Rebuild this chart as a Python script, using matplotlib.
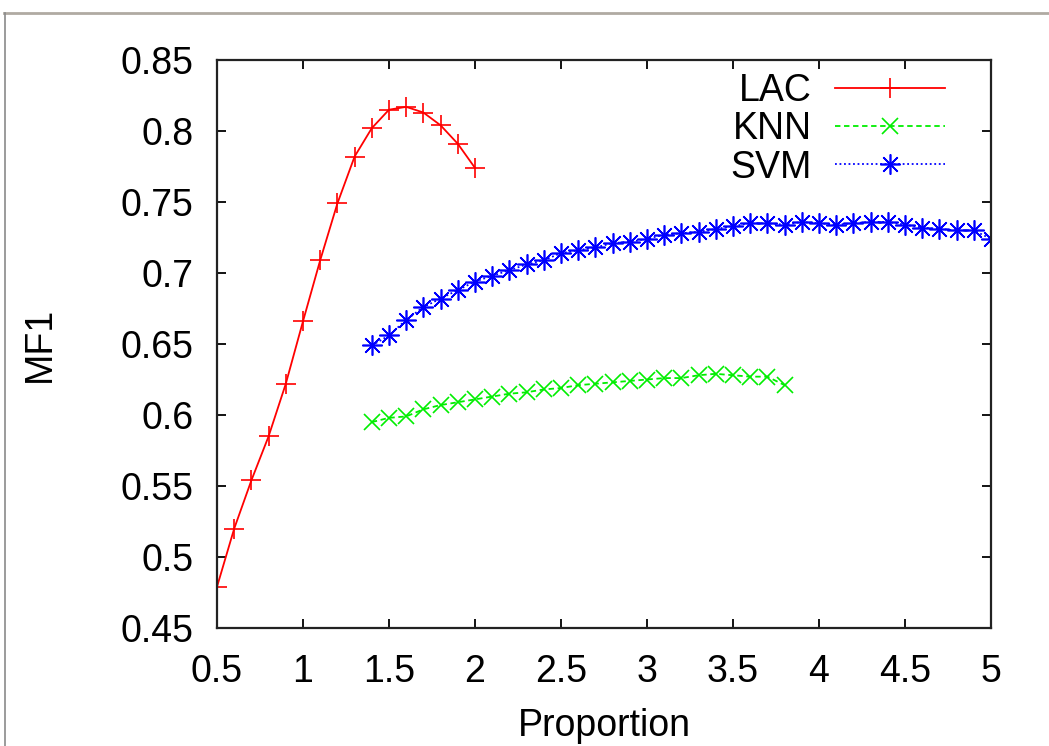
import matplotlib
matplotlib.use("Agg")
import matplotlib.pyplot as plt
from matplotlib.lines import Line2D
import numpy as np

# ---- data ----
lac_x = [0.5, 0.6, 0.7, 0.8, 0.9, 1.0, 1.1, 1.2, 1.3, 1.4, 1.5, 1.6, 1.7, 1.8, 1.9, 2.0]
lac_y = [0.479, 0.520, 0.554, 0.585, 0.622, 0.666, 0.709, 0.749, 0.782, 0.802,
         0.815, 0.817, 0.813, 0.804, 0.791, 0.774]

knn_x = [1.4, 1.5, 1.6, 1.7, 1.8, 1.9, 2.0, 2.1, 2.2, 2.3, 2.4, 2.5, 2.6, 2.7,
         2.8, 2.9, 3.0, 3.1, 3.2, 3.3, 3.4, 3.5, 3.6, 3.7, 3.8]
knn_y = [0.595, 0.598, 0.599, 0.604, 0.607, 0.609, 0.611, 0.613, 0.615, 0.616,
         0.618, 0.619, 0.621, 0.622, 0.623, 0.624, 0.625, 0.626, 0.626, 0.628,
         0.629, 0.628, 0.627, 0.627, 0.621]

svm_x = [1.4, 1.5, 1.6, 1.7, 1.8, 1.9, 2.0, 2.1, 2.2, 2.3, 2.4, 2.5, 2.6, 2.7,
         2.8, 2.9, 3.0, 3.1, 3.2, 3.3, 3.4, 3.5, 3.6, 3.7, 3.8, 3.9, 4.0, 4.1,
         4.2, 4.3, 4.4, 4.5, 4.6, 4.7, 4.8, 4.9, 5.0]
svm_y = [0.649, 0.656, 0.667, 0.676, 0.682, 0.688, 0.694, 0.698, 0.702, 0.706,
         0.709, 0.714, 0.716, 0.718, 0.721, 0.722, 0.724, 0.727, 0.728, 0.729,
         0.731, 0.733, 0.735, 0.735, 0.734, 0.736, 0.735, 0.734, 0.735, 0.736,
         0.736, 0.734, 0.732, 0.731, 0.730, 0.730, 0.724]

x_ticks = [0.5, 1, 1.5, 2, 2.5, 3, 3.5, 4, 4.5, 5]
x_tick_labels = ["0.5", "1", "1.5", "2", "2.5", "3", "3.5", "4", "4.5", "5"]
y_ticks = [0.45, 0.5, 0.55, 0.6, 0.65, 0.7, 0.75, 0.8, 0.85]
y_tick_labels = ["0.45", "0.5", "0.55", "0.6", "0.65", "0.7", "0.75", "0.8", "0.85"]

plt.rcParams['font.family'] = ['Liberation Sans', 'DejaVu Sans']
FS = 27

fig = plt.figure(figsize=(10.49, 7.46), dpi=100)
ax = fig.add_axes([217/1049, 1 - 628/746, 774/1049, 568/746])

ax.plot(lac_x, lac_y, color='#ff0000', lw=1.3, ls='-', marker='+',
        markersize=15, markeredgewidth=1.2, label='LAC')
ax.plot(knn_x, knn_y, color='#00ee00', lw=1.3, ls=(0, (3, 2)), marker='x',
        markersize=12, markeredgewidth=1.2, label='KNN')
ax.plot(svm_x, svm_y, color='#0000ff', lw=1.3, ls=(0, (1, 1.5)), marker=(8, 2, 0),
        markersize=14.5, markeredgewidth=1.2, label='SVM')

ax.set_xlim(0.5, 5)
ax.set_ylim(0.45, 0.85)
ax.set_xticks(x_ticks)
ax.set_xticklabels(x_tick_labels)
ax.set_yticks(y_ticks)
ax.set_yticklabels(y_tick_labels)
ax.tick_params(direction='in', length=6.5, width=1.3, top=True, right=True,
               labelsize=FS, colors='black')
ax.tick_params(axis='y', pad=17)
ax.tick_params(axis='x', pad=19)
for s in ax.spines.values():
    s.set_linewidth(1.6)
    s.set_color('#222222')

ax.set_xlabel('Proportion', fontsize=FS, labelpad=13)
ax.set_ylabel('MF1', fontsize=FS, labelpad=45)

leg = ax.legend(loc='upper right', bbox_to_anchor=(945/1049, 1 - 73/746),
                bbox_transform=fig.transFigure, frameon=False, markerfirst=False,
                fontsize=FS, handlelength=2.93, handletextpad=0.62,
                labelspacing=0.06, borderpad=0, borderaxespad=0)
for t in leg.get_texts():
    t.set_ha('right')

# screenshot frame lines
fig.add_artist(Line2D([4/1049, 1], [1 - 13/746, 1 - 13/746], transform=fig.transFigure,
                      color='#b0aaa2', lw=2.0))
fig.add_artist(Line2D([5/1049, 5/1049], [0, 1 - 13/746], transform=fig.transFigure,
                      color='#8a8a8a', lw=1.2))

fig.savefig('out.png', dpi=100)
